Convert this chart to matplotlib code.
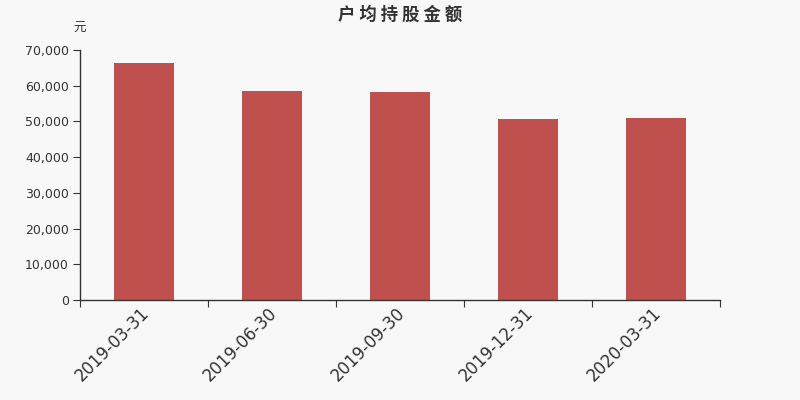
import matplotlib
matplotlib.use("Agg")
import matplotlib.pyplot as plt
import matplotlib.transforms as mtransforms
from matplotlib.ticker import FuncFormatter

plt.rcParams['font.family'] = ['DejaVu Sans', 'Noto Sans CJK SC']

# data
dates = ['2019-03-31', '2019-06-30', '2019-09-30', '2019-12-31', '2020-03-31']
amounts = [66360, 58520, 58240, 50680, 50960]

bg = '#f8f8f8'
fig = plt.figure(figsize=(8, 4), dpi=100, facecolor=bg)
ax = fig.add_axes([0.10, 0.25, 0.80, 0.625])
ax.set_facecolor(bg)

ax.bar(range(len(dates)), amounts, width=0.47, color='#c0504d', zorder=2)

ax.set_xlim(-0.5, len(dates) - 0.5)
ax.set_ylim(0, 70000)
ax.set_yticks(range(0, 70001, 10000))
ax.yaxis.set_major_formatter(FuncFormatter(lambda v, p: f'{int(v):,}'))

# ticks at category boundaries, labels at category centres
ax.set_xticks([i - 0.5 for i in range(len(dates) + 1)], minor=False)
ax.set_xticklabels([])
ax.set_xticks(range(len(dates)), minor=True)
ax.set_xticklabels(dates, minor=True, rotation=45, ha='right', rotation_mode='anchor',
                   fontsize=12, color='#333333')
ax.tick_params(axis='x', which='minor', length=0, pad=3)
ax.tick_params(axis='x', which='major', length=5, color='#333333')
ax.tick_params(axis='y', labelsize=9, colors='#333333', length=5, pad=3)

shift = mtransforms.ScaledTranslation(-4 / 100, 0, fig.dpi_scale_trans)
for lab in ax.get_xticklabels(minor=True):
    lab.set_transform(lab.get_transform() + shift)

for s in ['top', 'right']:
    ax.spines[s].set_visible(False)
for s in ['left', 'bottom']:
    ax.spines[s].set_color('#333333')
    ax.spines[s].set_linewidth(1)

fig.text(0.5, 0.962, '户 均 持 股 金 额', ha='center', va='center',
         fontsize=12.5, fontweight='bold', color='#333333', family=['Noto Sans CJK SC'])
fig.text(0.092, 0.93, '元', ha='left', va='center', fontsize=9, color='#333333',
         family=['Noto Sans CJK SC'])

fig.savefig('out.png', dpi=100, facecolor=bg)
